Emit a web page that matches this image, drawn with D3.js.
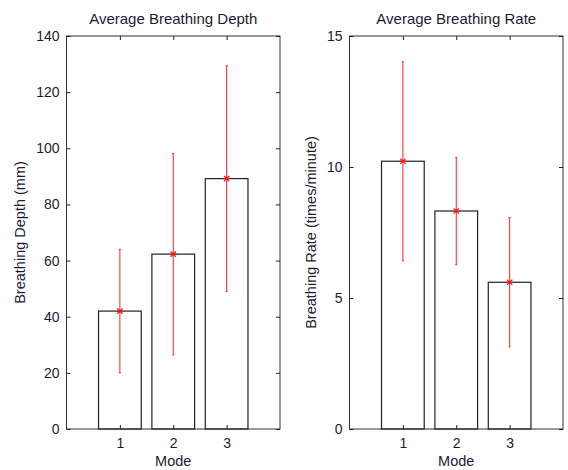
<!DOCTYPE html>
<html>
<head>
  <meta charset="utf-8">
  <title>Average Breathing</title>
  <script src="https://d3js.org/d3.v7.min.js"></script>
  <style>
    body { margin: 0; background: #fff; }
    text { font-family: "Liberation Sans", Arial, sans-serif; fill: #1c1c30; }
  </style>
</head>
<body>
<div id="chart"></div>
<script type="text/javascript">
  // dados
  let modes = [1, 2, 3];
  let depthMean = [42.0, 62.3, 89.2];
  let depthErr = [22.0, 35.9, 40.2];
  let rateMean = [10.22, 8.32, 5.6];
  let rateErr = [3.8, 2.05, 2.47];
  let depthTicks = [0, 20, 40, 60, 80, 100, 120, 140];
  let rateTicks = [0, 5, 10, 15];

  let W = 568, H = 470;
  let svg = d3.select('#chart')
      .append('svg')
        .attr('width', W)
        .attr('height', H);

  let plotTop = 36, plotBottom = 429;

  function panel(left, right, means, errs, yMax, ticks, title, ylabel, labelOff) {
    let x = d3.scaleLinear().domain([0, 4]).range([left, right]);
    let y = d3.scaleLinear().domain([0, yMax]).range([plotBottom, plotTop]);
    let g = svg.append('g');

    // caixa
    g.append('rect')
     .attr('x', left).attr('y', plotTop)
     .attr('width', right - left).attr('height', plotBottom - plotTop)
     .attr('fill', 'none').attr('stroke', '#333').attr('stroke-width', 1);

    // barras
    let bw = 0.8;
    g.selectAll('rect.bar')
     .data(modes)
     .enter().append('rect')
     .attr('class', 'bar')
     .attr('x', (d) => x(d - bw / 2))
     .attr('y', (d, i) => y(means[i]))
     .attr('width', x(bw) - x(0))
     .attr('height', (d, i) => y(0) - y(means[i]))
     .attr('fill', 'none').attr('stroke', '#222').attr('stroke-width', 1.2);

    // eixos com ticks para dentro
    let yAxisL = d3.axisLeft(y).tickValues(ticks).tickSizeInner(-4).tickSizeOuter(0).tickPadding(7).tickFormat(d3.format('d'));
    let yAxisR = d3.axisRight(y).tickValues(ticks).tickSizeInner(-4).tickSizeOuter(0).tickFormat('');
    let xAxisB = d3.axisBottom(x).tickValues(modes).tickSizeInner(-4).tickSizeOuter(0).tickPadding(9).tickFormat(d3.format('d'));
    let xAxisT = d3.axisTop(x).tickValues(modes).tickSizeInner(-4).tickSizeOuter(0).tickFormat('');

    let axes = [
      g.append('g').attr('transform', `translate(${left},0)`).call(yAxisL),
      g.append('g').attr('transform', `translate(${right},0)`).call(yAxisR),
      g.append('g').attr('transform', `translate(0,${plotBottom})`).call(xAxisB),
      g.append('g').attr('transform', `translate(0,${plotTop})`).call(xAxisT)
    ];
    axes.forEach((a) => {
      a.select('.domain').remove();
      a.selectAll('line').attr('stroke', '#222');
      a.selectAll('text').attr('font-size', '14px').attr('font-family', null).attr('fill', null);
    });

    // barras de erro
    g.selectAll('line.err')
     .data(modes)
     .enter().append('line')
     .attr('class', 'err')
     .attr('x1', (d) => x(d)).attr('x2', (d) => x(d))
     .attr('y1', (d, i) => y(means[i] - errs[i]))
     .attr('y2', (d, i) => y(means[i] + errs[i]))
     .attr('stroke', '#ff2020').attr('stroke-width', 1);
    ['lo', 'hi'].forEach((k) => {
      g.selectAll('line.cap' + k)
       .data(modes)
       .enter().append('line')
       .attr('x1', (d) => x(d) - 1).attr('x2', (d) => x(d) + 1)
       .attr('y1', (d, i) => y(means[i] + (k == 'hi' ? errs[i] : -errs[i])))
       .attr('y2', (d, i) => y(means[i] + (k == 'hi' ? errs[i] : -errs[i])))
       .attr('stroke', '#ff2020').attr('stroke-width', 1);
    });

    // marcador estrela
    g.selectAll('path.mark')
     .data(modes)
     .enter().append('path')
     .attr('transform', (d, i) => `translate(${x(d)},${y(means[i])})`)
     .attr('d', d3.symbol().type(d3.symbolTimes).size(20))
     .attr('stroke', '#ff1010').attr('stroke-width', 1.2).attr('fill', 'none');
    g.selectAll('line.markh')
     .data(modes)
     .enter().append('line')
     .attr('x1', (d) => x(d) - 3).attr('x2', (d) => x(d) + 3)
     .attr('y1', (d, i) => y(means[i])).attr('y2', (d, i) => y(means[i]))
     .attr('stroke', '#ff1010').attr('stroke-width', 1.2);

    // textos
    g.append('text')
     .attr('x', (left + right) / 2).attr('y', 24)
     .style('text-anchor', 'middle')
     .attr('font-size', '15px')
     .text(title);
    g.append('text')
     .attr('x', (left + right) / 2).attr('y', 466)
     .style('text-anchor', 'middle')
     .attr('font-size', '14.5px')
     .text('Mode');
    g.append('text')
     .attr('transform', `translate(${left - labelOff},${(plotTop + plotBottom) / 2}) rotate(-90)`)
     .style('text-anchor', 'middle')
     .attr('font-size', '14.5px')
     .text(ylabel);
  }

  panel(66.5, 280, depthMean, depthErr, 140, depthTicks, 'Average Breathing Depth', 'Breathing Depth (mm)', 41.5);
  panel(349.5, 563, rateMean, rateErr, 15, rateTicks, 'Average Breathing Rate', 'Breathing Rate (times/minute)', 33.5);
</script>
</body>
</html>
